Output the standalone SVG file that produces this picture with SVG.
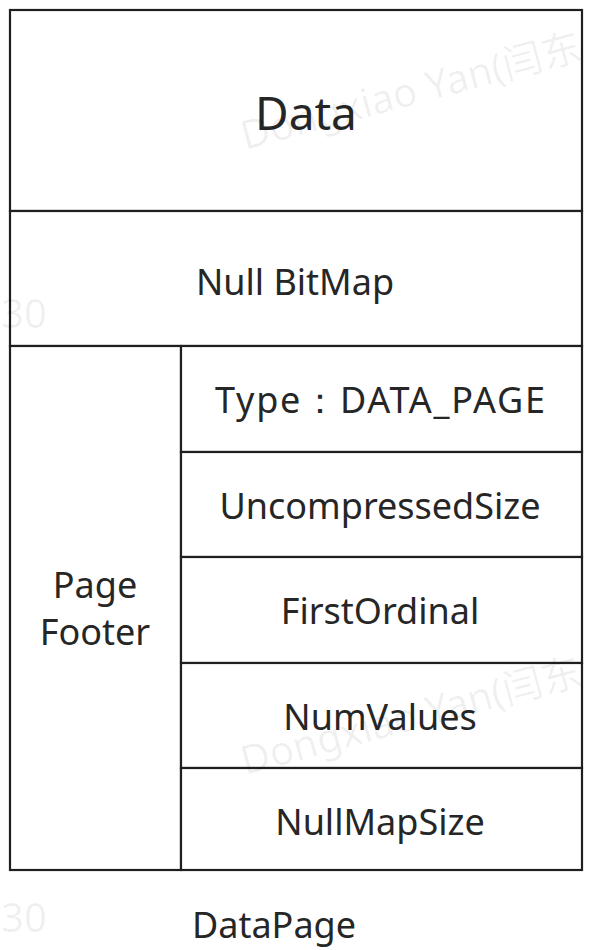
<svg xmlns="http://www.w3.org/2000/svg" width="598" height="950" viewBox="0 0 598 950">
  <style>
    .cell { fill: #ffffff; stroke: #1f1f1f; stroke-width: 2.2; }
    .lbl { font-family: "Noto Sans", "Liberation Sans", sans-serif; fill: #262626; text-anchor: middle; font-size: 36px; }
    .big { font-size: 46px; }
    .wm { font-family: "Noto Sans", "Noto Sans CJK SC", sans-serif; fill: #000000; fill-opacity: 0.06; font-size: 40px; }
  </style>
  <rect width="598" height="950" fill="#ffffff"/>

  <g id="data">
    <rect class="cell" x="10" y="10" width="572" height="201"/>
    <text class="lbl big" x="306" y="130">Data</text>
  </g>
  <g id="null-bitmap">
    <rect class="cell" x="10" y="211" width="572" height="135"/>
    <text class="lbl" x="295" y="295">Null BitMap</text>
  </g>
  <g id="page-footer">
    <rect class="cell" x="10" y="346" width="171" height="524"/>
    <text class="lbl" x="95" y="598">Page</text>
    <text class="lbl" x="95" y="645">Footer</text>
  </g>
  <g id="type">
    <rect class="cell" x="181" y="346" width="401" height="106"/>
    <text class="lbl" x="380" y="413" textLength="330">Type：DATA_PAGE</text>
  </g>
  <g id="uncompressed-size">
    <rect class="cell" x="181" y="452" width="401" height="105"/>
    <text class="lbl" x="380" y="519">UncompressedSize</text>
  </g>
  <g id="first-ordinal">
    <rect class="cell" x="181" y="557" width="401" height="106"/>
    <text class="lbl" x="380" y="624">FirstOrdinal</text>
  </g>
  <g id="num-values">
    <rect class="cell" x="181" y="663" width="401" height="105"/>
    <text class="lbl" x="380" y="730">NumValues</text>
  </g>
  <g id="null-map-size">
    <rect class="cell" x="181" y="768" width="401" height="102"/>
    <text class="lbl" x="380" y="835">NullMapSize</text>
  </g>
  <g id="caption">
    <text class="lbl" x="274" y="938">DataPage</text>
  </g>
  <g id="connectors"/>

  <!-- faint watermark over the page -->
  <g id="watermark">
    <text class="wm" transform="translate(245,150) rotate(-15)">Dongxiao Yan(闫东</text>
    <text class="wm" transform="translate(245,775) rotate(-15)">Dongxiao Yan(闫东</text>
    <text class="wm" x="1" y="328" font-size="36">30</text>
    <text class="wm" x="1" y="932" font-size="32">30</text>
  </g>
</svg>
